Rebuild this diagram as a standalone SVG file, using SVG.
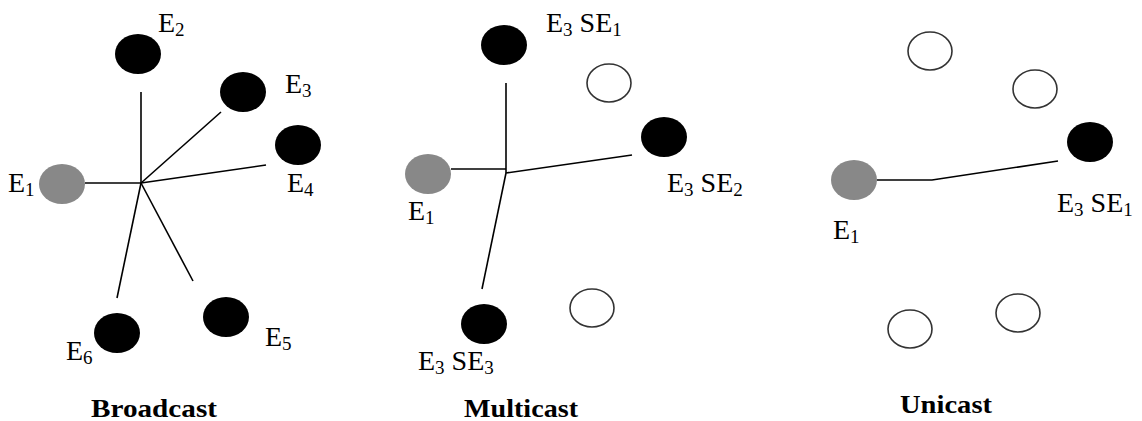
<svg xmlns="http://www.w3.org/2000/svg" width="1142" height="421" viewBox="0 0 1142 421">
<style>
.blk{fill:#000;stroke:none}
.gry{fill:#888;stroke:none}
.wht{fill:#fff;stroke:#333;stroke-width:1.6}
.lbl{font-family:"Liberation Serif",serif;font-size:28px;fill:#000}
.sub{font-size:19px}
.ttl{font-family:"Liberation Serif",serif;font-size:26px;font-weight:bold;fill:#000}
.ln{stroke:#000;stroke-width:1.6;fill:none}
</style>
<rect width="1142" height="421" fill="#fff"/>
<g id="connectors">
  <!-- Broadcast -->
  <line class="ln" x1="141" y1="92" x2="141" y2="183"/>
  <line class="ln" x1="221" y1="112" x2="141" y2="183"/>
  <line class="ln" x1="266" y1="165" x2="141" y2="183"/>
  <line class="ln" x1="85" y1="183" x2="141" y2="183"/>
  <line class="ln" x1="117" y1="298" x2="141" y2="183"/>
  <line class="ln" x1="193" y1="281" x2="141" y2="183"/>
  <!-- Multicast -->
  <line class="ln" x1="506" y1="83" x2="506" y2="173"/>
  <line class="ln" x1="451" y1="169" x2="506" y2="169"/>
  <line class="ln" x1="506" y1="173" x2="632" y2="155"/>
  <line class="ln" x1="506" y1="173" x2="482" y2="289"/>
  <!-- Unicast -->
  <polyline class="ln" points="877,180 932,180 1058,161"/>
</g>
<g id="broadcast">
  <g id="b-e1"><ellipse class="gry" cx="62" cy="184" rx="23" ry="20"/><text class="lbl" x="8" y="192">E<tspan class="sub" dy="4">1</tspan></text></g>
  <g id="b-e2"><ellipse class="blk" cx="138" cy="54" rx="23" ry="20"/><text class="lbl" x="158" y="32">E<tspan class="sub" dy="4">2</tspan></text></g>
  <g id="b-e3"><ellipse class="blk" cx="243" cy="92" rx="23" ry="20"/><text class="lbl" x="285" y="93">E<tspan class="sub" dy="4">3</tspan></text></g>
  <g id="b-e4"><ellipse class="blk" cx="298" cy="145" rx="23" ry="20"/><text class="lbl" x="287" y="192">E<tspan class="sub" dy="4">4</tspan></text></g>
  <g id="b-e5"><ellipse class="blk" cx="226" cy="317" rx="23" ry="20"/><text class="lbl" x="265" y="346">E<tspan class="sub" dy="4">5</tspan></text></g>
  <g id="b-e6"><ellipse class="blk" cx="117" cy="333" rx="23" ry="20"/><text class="lbl" x="66" y="360">E<tspan class="sub" dy="4">6</tspan></text></g>
  <text class="ttl" x="91" y="417" textLength="126" lengthAdjust="spacingAndGlyphs">Broadcast</text>
</g>
<g id="multicast">
  <g id="m-e1"><ellipse class="gry" cx="428" cy="174" rx="23" ry="20"/><text class="lbl" x="408" y="220">E<tspan class="sub" dy="4">1</tspan></text></g>
  <g id="m-se1"><ellipse class="blk" cx="504" cy="45" rx="23" ry="20"/><text class="lbl" x="546" y="32">E<tspan class="sub" dy="4">3</tspan><tspan dy="-4"> SE</tspan><tspan class="sub" dy="4">1</tspan></text></g>
  <g id="m-w1"><ellipse class="wht" cx="609" cy="83" rx="22" ry="19"/></g>
  <g id="m-se2"><ellipse class="blk" cx="664" cy="137" rx="23" ry="20"/><text class="lbl" x="667" y="192">E<tspan class="sub" dy="4">3</tspan><tspan dy="-4"> SE</tspan><tspan class="sub" dy="4">2</tspan></text></g>
  <g id="m-se3"><ellipse class="blk" cx="484" cy="324" rx="23" ry="20"/><text class="lbl" x="418" y="370">E<tspan class="sub" dy="4">3</tspan><tspan dy="-4"> SE</tspan><tspan class="sub" dy="4">3</tspan></text></g>
  <g id="m-w2"><ellipse class="wht" cx="592" cy="308" rx="22" ry="19"/></g>
  <text class="ttl" x="464" y="417" textLength="114" lengthAdjust="spacingAndGlyphs">Multicast</text>
</g>
<g id="unicast">
  <g id="u-e1"><ellipse class="gry" cx="854" cy="180" rx="23" ry="20"/><text class="lbl" x="833" y="239">E<tspan class="sub" dy="4">1</tspan></text></g>
  <g id="u-w1"><ellipse class="wht" cx="930" cy="51" rx="22" ry="19"/></g>
  <g id="u-w2"><ellipse class="wht" cx="1035" cy="89" rx="22" ry="19"/></g>
  <g id="u-se1"><ellipse class="blk" cx="1090" cy="142" rx="23" ry="20"/><text class="lbl" x="1057" y="212">E<tspan class="sub" dy="4">3</tspan><tspan dy="-4"> SE</tspan><tspan class="sub" dy="4">1</tspan></text></g>
  <g id="u-w3"><ellipse class="wht" cx="910" cy="329" rx="22" ry="19"/></g>
  <g id="u-w4"><ellipse class="wht" cx="1018" cy="313" rx="22" ry="19"/></g>
  <text class="ttl" x="900" y="413" textLength="92" lengthAdjust="spacingAndGlyphs">Unicast</text>
</g>
</svg>
